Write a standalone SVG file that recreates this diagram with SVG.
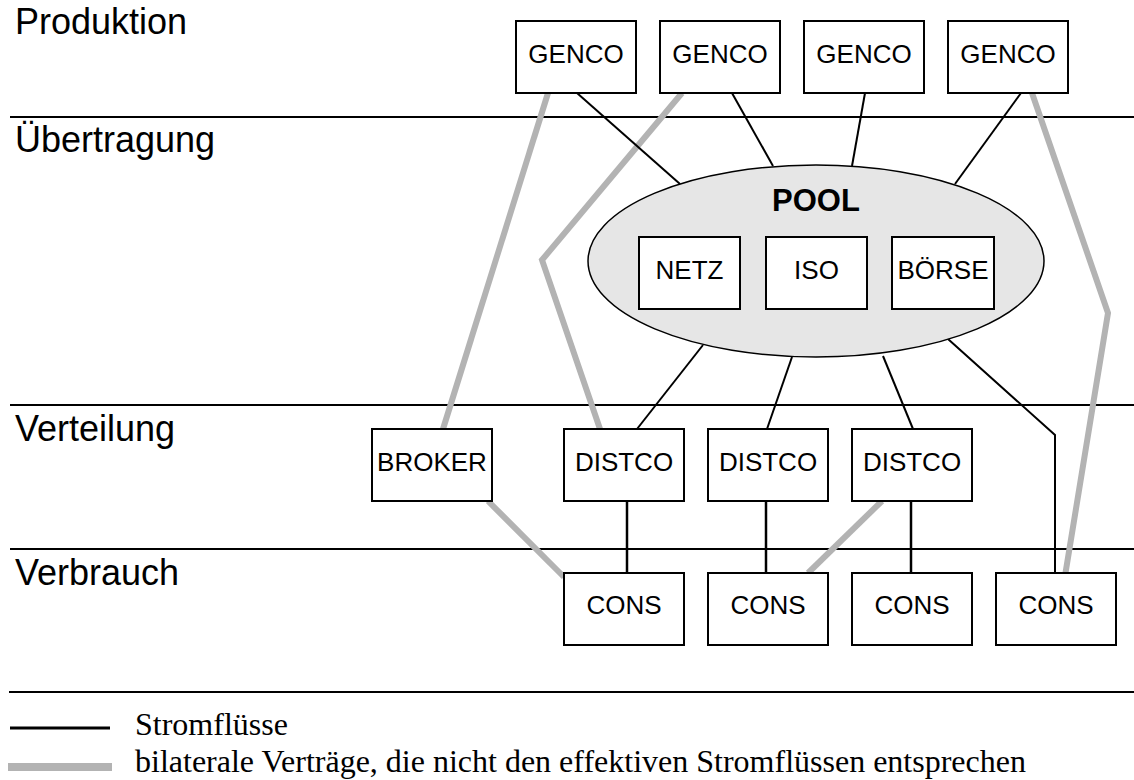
<svg xmlns="http://www.w3.org/2000/svg" width="1134" height="780" viewBox="0 0 1134 780">
<style>
.bg{fill:#ffffff}
.box{fill:#ffffff;stroke:#000000;stroke-width:2}
.lbl{font-family:"Liberation Sans",Arial,sans-serif;font-size:26px;fill:#000000;text-anchor:middle}
.layer{font-family:"Liberation Sans",Arial,sans-serif;font-size:36px;fill:#000000}
.leg{font-family:"Liberation Serif","Times New Roman",serif;font-size:32px;fill:#000000}
.sep{stroke:#000000;stroke-width:2;fill:none}
.flow{stroke:#000000;stroke-width:2;fill:none}
.contract{stroke:#b3b3b3;stroke-width:6;fill:none;stroke-linejoin:miter}
</style>
<rect class="bg" x="0" y="0" width="1134" height="780"/>
<g id="layers">
<line class="sep" x1="10" y1="117" x2="1134" y2="117"/>
<line class="sep" x1="10" y1="405" x2="1134" y2="405"/>
<line class="sep" x1="10" y1="549" x2="1134" y2="549"/>
<text class="layer" x="15" y="34">Produktion</text>
<text class="layer" x="15" y="152">Übertragung</text>
<text class="layer" x="15" y="441">Verteilung</text>
<text class="layer" x="15" y="585">Verbrauch</text>
</g>
<g id="connectors">
<polyline class="contract" points="548,93 443,429"/>
<polyline class="contract" points="682,93 542,260 600,429"/>
<polyline class="contract" points="1032,93 1108,313 1065,576"/>
<polyline class="contract" points="488,501 564,577"/>
<polyline class="contract" points="882,501 808,573"/>
<line class="flow" x1="577" y1="93" x2="680" y2="184"/>
<line class="flow" x1="732" y1="93" x2="773" y2="166"/>
<line class="flow" x1="865" y1="93" x2="852" y2="166"/>
<line class="flow" x1="1021" y1="93" x2="955" y2="184"/>
<line class="flow" x1="703" y1="345" x2="637" y2="429"/>
<line class="flow" x1="792" y1="357" x2="767" y2="429"/>
<line class="flow" x1="883" y1="356" x2="913" y2="429"/>
<polyline class="flow" points="948,339 1055,435 1055,573"/>
<line class="flow" x1="627" y1="501" x2="627" y2="573" style="stroke-width:2.5"/>
<line class="flow" x1="766" y1="501" x2="766" y2="573" style="stroke-width:2.5"/>
<line class="flow" x1="911" y1="501" x2="911" y2="573" style="stroke-width:2.5"/>
</g>
<g id="genco1"><rect class="box" x="516" y="21" width="120" height="72"/><text class="lbl" x="576" y="63">GENCO</text></g>
<g id="genco2"><rect class="box" x="660" y="21" width="120" height="72"/><text class="lbl" x="720" y="63">GENCO</text></g>
<g id="genco3"><rect class="box" x="804" y="21" width="120" height="72"/><text class="lbl" x="864" y="63">GENCO</text></g>
<g id="genco4"><rect class="box" x="948" y="21" width="120" height="72"/><text class="lbl" x="1008" y="63">GENCO</text></g>
<g id="pool">
<ellipse cx="816" cy="261" rx="228" ry="96" fill="#e6e6e6" stroke="#000000" stroke-width="1.5"/>
<text x="816" y="211" font-family="Liberation Sans, Arial, sans-serif" font-size="31" font-weight="bold" text-anchor="middle">POOL</text>
</g>
<g id="netz"><rect class="box" x="639" y="237" width="101" height="72"/><text class="lbl" x="689.5" y="279">NETZ</text></g>
<g id="iso"><rect class="box" x="766" y="237" width="101" height="72"/><text class="lbl" x="816.5" y="279">ISO</text></g>
<g id="boerse"><rect class="box" x="892" y="237" width="102" height="72"/><text class="lbl" x="943" y="279">BÖRSE</text></g>
<g id="broker"><rect class="box" x="372" y="429" width="120" height="72"/><text class="lbl" x="432" y="471">BROKER</text></g>
<g id="distco1"><rect class="box" x="564" y="429" width="120" height="72"/><text class="lbl" x="624" y="471">DISTCO</text></g>
<g id="distco2"><rect class="box" x="708" y="429" width="120" height="72"/><text class="lbl" x="768" y="471">DISTCO</text></g>
<g id="distco3"><rect class="box" x="852" y="429" width="120" height="72"/><text class="lbl" x="912" y="471">DISTCO</text></g>
<g id="cons1"><rect class="box" x="564" y="573" width="120" height="72"/><text class="lbl" x="624" y="614">CONS</text></g>
<g id="cons2"><rect class="box" x="708" y="573" width="120" height="72"/><text class="lbl" x="768" y="614">CONS</text></g>
<g id="cons3"><rect class="box" x="852" y="573" width="120" height="72"/><text class="lbl" x="912" y="614">CONS</text></g>
<g id="cons4"><rect class="box" x="996" y="573" width="120" height="72"/><text class="lbl" x="1056" y="614">CONS</text></g>
<g id="legend">
<line class="sep" x1="9" y1="692" x2="1134" y2="692"/>
<line x1="10" y1="728" x2="110" y2="728" stroke="#000000" stroke-width="3"/>
<line x1="8" y1="767" x2="112" y2="767" stroke="#b3b3b3" stroke-width="8"/>
<text class="leg" x="135" y="735">Stromflüsse</text>
<text class="leg" x="135" y="772">bilaterale Verträge, die nicht den effektiven Stromflüssen entsprechen</text>
</g>
</svg>
